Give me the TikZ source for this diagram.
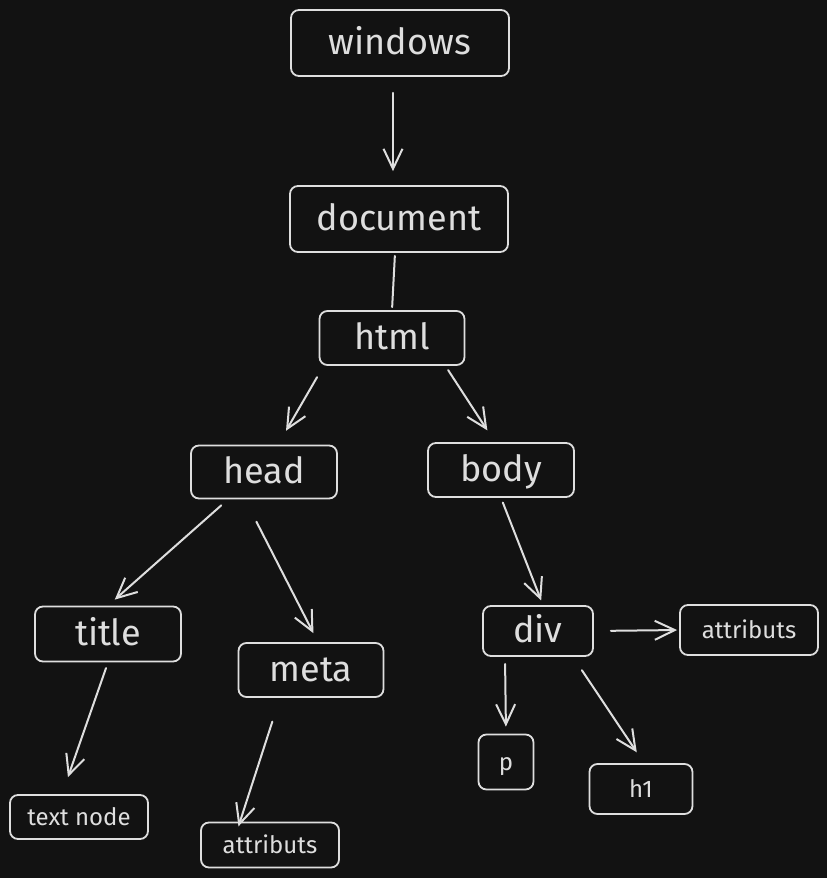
\documentclass[tikz,border=0pt]{standalone}
\usepackage{fontspec}
\setmainfont{Fira Sans}
\usepackage{tikz}
\usetikzlibrary{arrows.meta}
\definecolor{bg}{HTML}{121212}
\definecolor{ink}{HTML}{DEDEDE}
\begin{document}
\begin{tikzpicture}[x=1pt,y=-1pt,>={Straight Barb[length=20pt,width=19pt]},
  box/.style={rectangle,rounded corners=8pt,draw=ink,text=ink,line width=1.8pt,inner sep=0pt},
  big/.style={box,minimum width=218pt,minimum height=66pt,text height=24pt,text depth=2pt,font=\fontsize{36}{40}\selectfont},
  mid/.style={box,minimum width=146pt,minimum height=54pt,text height=24pt,text depth=2pt,font=\fontsize{36}{40}\selectfont},
  small/.style={box,minimum width=138pt,minimum height=48pt,text height=17pt,text depth=1pt,font=\fontsize{24}{28}\selectfont},
  link/.style={->,draw=ink,line width=2pt,line cap=round}]
\fill[bg] (0,0) rectangle (827,878);
% top chain
\node[big] (win) at (400,43) {windows};
\node[big] (doc) at (399,219) {document};
\node[mid,minimum width=145pt] (html) at (392,338) {html};
% second level
\node[mid,minimum height=53pt] (head) at (264,472) {head};
\node[mid] (body) at (501,470) {body};
% third level
\node[mid,minimum height=55pt] (title) at (108,634) {title};
\node[mid,minimum width=145pt] (meta) at (311,670) {meta};
\node[mid,minimum width=110pt,minimum height=50pt] (div) at (538,631) {div};
\node[small,minimum height=50pt] (attr1) at (749,630) {attributs};
% leaves
\node[small,minimum height=44pt] (txt) at (79,817) {text node};
\node[small,minimum height=45pt] (attr2) at (270,845) {attributs};
\node[small,minimum width=55pt,minimum height=55pt] (p) at (506,762) {p};
\node[small,minimum width=103pt,minimum height=50pt] (h1) at (641,789) {h1};
% connectors
\draw[link] ([xshift=-7pt]win.south) -- ([xshift=-6pt]doc.north) [shorten <=16pt,shorten >=14pt];
\draw[link,-] ([xshift=-4pt]doc.south) -- (html.north) [shorten <=3pt,shorten >=3pt];
\draw[link] ([xshift=5pt]html.south west) -- ([xshift=14pt]head.north) [shorten <=13pt,shorten >=16pt];
\draw[link] ([xshift=-20pt]html.south east) -- ([xshift=-6pt]body.north) [shorten <=5pt,shorten >=14pt];
\draw[link] ([xshift=-36pt]head.south) -- (title.north) [shorten <=9pt,shorten >=9pt];
\draw[link] ([xshift=-19pt]head.south) -- ([xshift=7pt]meta.north) [shorten <=25pt,shorten >=10pt];
\draw[link] (body.south) -- ([xshift=5pt]div.north) [shorten <=5pt,shorten >=5pt];
\draw[link] (title.south) -- ([xshift=-17pt]txt.north) [shorten <=6pt,shorten >=18pt];
\draw[link] ([xshift=-31pt]meta.south) -- ([xshift=-30pt]attr2.north) [shorten <=25pt,shorten >=-5pt];
\draw[link] (div.east) -- (attr1.west) [shorten <=17pt,shorten >=2pt];
\draw[link] ([xshift=-33pt]div.south) -- (p.north) [shorten <=7pt,shorten >=7pt];
\draw[link] ([xshift=35pt]div.south) -- ([xshift=3pt]h1.north) [shorten <=16pt,shorten >=13pt];
\end{tikzpicture}
\end{document}
